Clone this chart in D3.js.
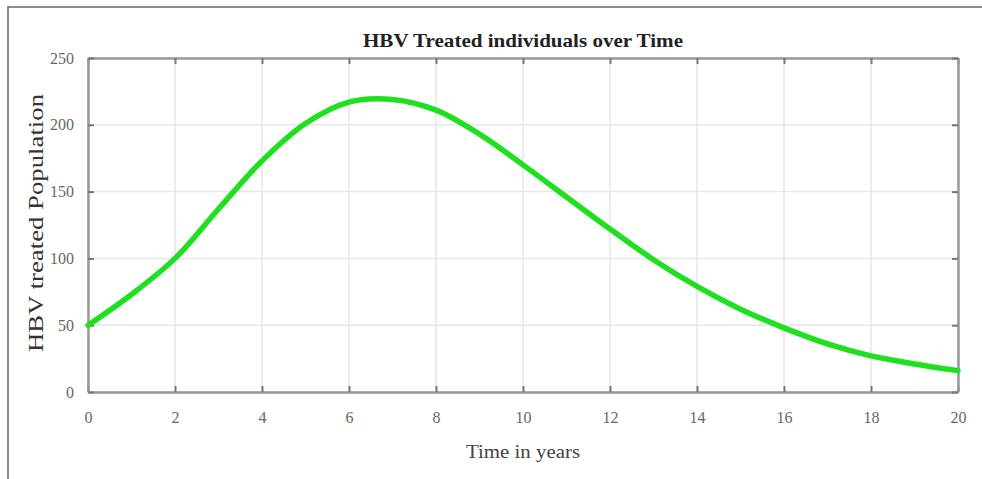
<!doctype html>
<html>
  <head>
    <meta charset="utf-8">
    <title>HBV Treated individuals over Time</title>
    <script src="https://cdnjs.cloudflare.com/ajax/libs/d3/7.8.5/d3.min.js"></script>
    <style>
      body { margin: 0; background: #fff; }
      text { font-family: "Liberation Serif", "DejaVu Serif", serif; }
    </style>
  </head>
  <body>
    <div id="chart"></div>
    <script>
      // data
      const years = [0, 1, 2, 3, 4, 5, 6, 7, 8, 9, 10, 11, 12, 13, 14, 15, 16, 17, 18, 19, 20];
      const treated = [50, 73, 100, 137, 173, 201, 217, 219, 211, 193, 170, 146, 122, 99, 79, 62, 48, 36, 27, 21, 16];
      const xTicks = [0, 2, 4, 6, 8, 10, 12, 14, 16, 18, 20];
      const yTicks = [0, 50, 100, 150, 200, 250];

      const width = 982, height = 479;
      const margin = {top: 58, right: 24, bottom: 87, left: 88};

      const svg = d3.select('#chart').append('svg')
        .attr('width', width)
        .attr('height', height);

      // outer frame (top + left only, picture is cropped)
      svg.append('path')
        .attr('d', `M8,${height} L8,7 L${width},7`)
        .attr('fill', 'none')
        .attr('stroke', '#666')
        .attr('stroke-width', 1.5);

      const x = d3.scaleLinear().domain([0, 20]).range([margin.left, width - margin.right]);
      const y = d3.scaleLinear().domain([0, 250]).range([height - margin.bottom, margin.top]);

      const g = svg.append('g');

      // grid
      g.selectAll('.vgrid').data(xTicks).join('line')
        .attr('x1', d => x(d)).attr('x2', d => x(d))
        .attr('y1', y(0)).attr('y2', y(250))
        .attr('stroke', '#e6e6e6').attr('stroke-width', 1.5);
      g.selectAll('.hgrid').data(yTicks).join('line')
        .attr('x1', x(0)).attr('x2', x(20))
        .attr('y1', d => y(d)).attr('y2', d => y(d))
        .attr('stroke', '#e6e6e6').attr('stroke-width', 1.5);

      // axes with inward ticks
      const axisColor = '#999';
      const axBottom = g.append('g').attr('transform', `translate(0,${y(0)})`)
        .call(d3.axisBottom(x).tickValues(xTicks).tickSize(-6).tickPadding(20).tickSizeOuter(0));
      const axTop = g.append('g').attr('transform', `translate(0,${y(250)})`)
        .call(d3.axisTop(x).tickValues(xTicks).tickSize(-6).tickFormat('').tickSizeOuter(0));
      const axLeft = g.append('g').attr('transform', `translate(${x(0)},0)`)
        .call(d3.axisLeft(y).tickValues(yTicks).tickSize(-6).tickPadding(14).tickSizeOuter(0));
      const axRight = g.append('g').attr('transform', `translate(${x(20)},0)`)
        .call(d3.axisRight(y).tickValues(yTicks).tickSize(-6).tickFormat('').tickSizeOuter(0));

      [axBottom, axTop, axLeft, axRight].forEach(a => {
        a.select('.domain').attr('stroke', axisColor).attr('stroke-width', 2.5);
        a.selectAll('.tick line').attr('stroke', '#777').attr('stroke-width', 2);
        a.selectAll('.tick text')
          .attr('fill', '#666')
          .style('font-family', '"Liberation Serif", serif')
          .style('font-size', '16px');
      });

      // the curve
      const line = d3.line()
        .x((d, i) => x(years[i]))
        .y(d => y(d))
        .curve(d3.curveCatmullRom);

      g.append('path')
        .datum(treated)
        .attr('d', line)
        .attr('fill', 'none')
        .attr('stroke', '#1ee01e')
        .attr('stroke-width', 5.5)
        .attr('stroke-linecap', 'round');

      // labels
      svg.append('text')
        .attr('x', (x(0) + x(20)) / 2).attr('y', 47)
        .attr('text-anchor', 'middle')
        .attr('textLength', 320)
        .attr('lengthAdjust', 'spacingAndGlyphs')
        .style('font-size', '19px').style('font-weight', 'bold')
        .attr('fill', '#222')
        .text('HBV Treated individuals over Time');

      svg.append('text')
        .attr('x', (x(0) + x(20)) / 2).attr('y', 458)
        .attr('text-anchor', 'middle')
        .attr('textLength', 114)
        .attr('lengthAdjust', 'spacingAndGlyphs')
        .style('font-size', '19px')
        .attr('fill', '#444')
        .text('Time in years');

      svg.append('text')
        .attr('transform', `translate(43,223) rotate(-90)`)
        .attr('text-anchor', 'middle')
        .attr('textLength', 258)
        .attr('lengthAdjust', 'spacingAndGlyphs')
        .style('font-size', '22px')
        .attr('fill', '#333')
        .text('HBV treated Population');
    </script>
  </body>
</html>
